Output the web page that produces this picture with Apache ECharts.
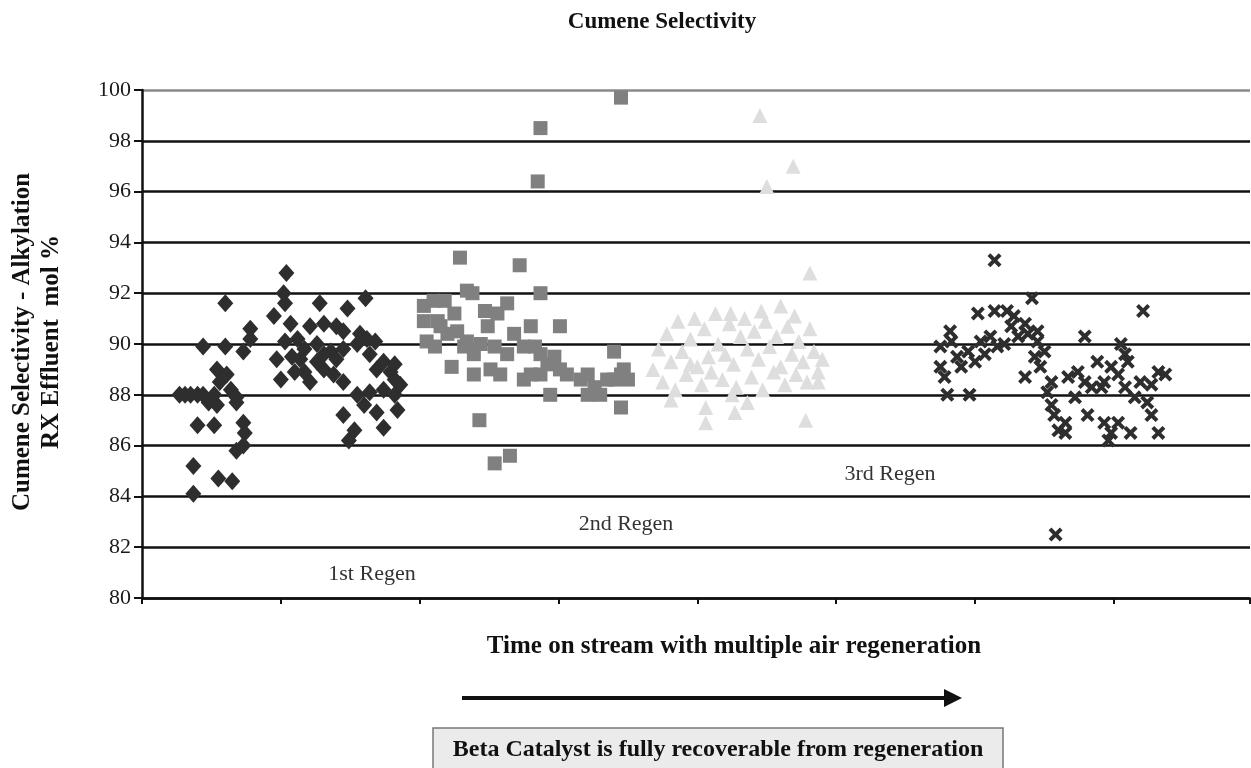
<!DOCTYPE html>
<html>
<head>
<meta charset="utf-8">
<script src="https://cdn.jsdelivr.net/npm/echarts@6/dist/echarts.min.js"></script>
<style>
  html, body { margin: 0; padding: 0; background: #fff; }
  #chart { width: 1251px; height: 768px; }
</style>
</head>
<body>
<div id="chart"></div>
<script>
// Time on stream (arbitrary units, 100 per x tick) vs cumene selectivity (mol %)
const firstRun = [
  [27, 88.0], [31, 88.0], [35, 88.0], [40, 88.0], [44, 88.0], [52, 88.0],
  [37, 84.1], [37, 85.2], [40, 86.8], [44, 89.9], [48, 87.7], [52, 86.8], [54, 87.6], [54, 89.0],
  [55, 84.7], [56, 88.5], [60, 91.6], [60, 89.9], [61, 88.8], [64, 88.2], [65, 84.6], [68, 87.9],
  [68, 87.7], [68, 85.8], [73, 86.9], [74, 86.5], [73, 86.0], [73, 89.7], [78, 90.6], [78, 90.2],
  [95, 91.1], [97, 89.4], [100, 88.6], [102, 92.0], [103, 91.6], [104, 92.8], [107, 90.8], [112, 90.2],
  [114, 89.4], [117, 89.8], [117, 88.9], [121, 90.7], [121, 88.5], [126, 90.0], [126, 89.3], [128, 91.6],
  [131, 90.8], [131, 89.6], [131, 89.0], [136, 89.7], [138, 88.8], [140, 90.7], [140, 89.4], [145, 90.5],
  [145, 89.8], [145, 88.5], [145, 87.2], [148, 91.4], [149, 86.2], [153, 86.6], [155, 90.0], [155, 88.0],
  [157, 90.4], [160, 87.6], [161, 91.8], [162, 90.2], [164, 89.6], [164, 88.1], [168, 90.1], [169, 89.0],
  [169, 87.3], [174, 89.3], [174, 88.2], [174, 86.7], [179, 88.9], [182, 89.2], [182, 88.0], [182, 88.6],
  [184, 87.4], [186, 88.4], [103, 90.1], [108, 89.5], [110, 88.9]
];
const secondRegen = [
  [203, 91.5], [203, 90.9], [205, 90.1], [210, 91.7], [211, 89.9], [213, 90.9], [215, 90.7], [218, 91.7],
  [220, 90.4], [223, 89.1], [225, 91.2], [227, 90.5], [229, 93.4], [232, 89.9], [234, 92.1], [234, 90.1],
  [238, 92.0], [239, 89.6], [239, 88.8], [243, 87.0], [244, 90.0], [247, 91.3], [249, 90.7], [251, 89.0],
  [254, 85.3], [254, 89.9], [256, 91.2], [258, 88.8], [263, 91.6], [263, 89.6], [265, 85.6], [268, 90.4],
  [272, 93.1], [275, 89.9], [275, 88.6], [280, 90.7], [280, 88.8], [283, 89.9], [285, 96.4], [287, 98.5],
  [287, 92.0], [287, 89.6], [287, 88.8], [292, 89.2], [294, 88.0], [297, 89.5], [301, 90.7], [301, 89.0],
  [306, 88.8], [316, 88.6], [321, 88.8], [321, 88.0], [326, 88.3], [330, 88.0], [335, 88.6], [340, 89.7],
  [340, 88.6], [345, 99.7], [345, 88.8], [345, 87.5], [347, 89.0], [350, 88.6]
];
const thirdRegen = [
  [368, 89.0], [372, 89.8], [375, 88.5], [378, 90.4], [381, 89.3], [381, 87.8], [384, 88.2], [386, 90.9],
  [389, 89.7], [392, 88.8], [395, 90.2], [395, 89.2], [398, 91.0], [400, 89.1], [403, 88.4], [405, 90.6],
  [406, 87.5], [406, 86.9], [408, 89.5], [410, 88.9], [413, 91.2], [415, 90.0], [418, 88.6], [420, 89.6],
  [423, 90.8], [424, 91.2], [425, 88.0], [426, 89.2], [427, 87.3], [428, 88.3], [431, 90.3], [434, 91.0],
  [436, 89.8], [436, 87.7], [439, 88.7], [441, 90.5], [444, 89.4], [445, 99.0], [446, 91.3], [447, 88.2],
  [449, 90.9], [450, 96.2], [452, 89.9], [455, 88.9], [457, 90.3], [460, 91.5], [460, 89.1], [463, 88.4],
  [465, 90.7], [468, 89.6], [469, 97.0], [470, 91.1], [471, 88.8], [473, 90.1], [476, 89.3], [478, 87.0],
  [479, 88.5], [481, 90.6], [481, 92.8], [484, 89.7], [487, 88.5], [487, 88.9], [490, 89.4]
];
const fourthRegen = [
  [575, 89.9], [575, 89.1], [578, 88.7], [580, 88.0], [582, 90.5], [583, 90.1], [587, 89.5], [590, 89.1],
  [595, 89.7], [596, 88.0], [600, 89.3], [602, 91.2], [604, 90.1], [607, 89.6], [611, 90.3], [614, 93.3],
  [614, 91.3], [616, 89.9], [621, 90.0], [623, 91.3], [626, 90.7], [628, 91.1], [631, 90.3], [636, 90.8],
  [636, 88.7], [638, 90.4], [641, 91.8], [643, 89.5], [645, 90.5], [645, 90.1], [647, 89.1], [650, 89.7],
  [652, 88.1], [655, 88.5], [655, 87.6], [657, 87.2], [658, 82.5], [660, 86.6], [665, 86.9], [665, 86.5],
  [667, 88.7], [672, 87.9], [674, 88.9], [679, 90.3], [679, 88.5], [681, 87.2], [684, 88.3], [688, 89.3],
  [691, 88.3], [693, 88.5], [693, 86.9], [696, 86.2], [698, 89.1], [698, 86.5], [703, 88.8], [703, 86.9],
  [705, 90.0], [708, 88.3], [708, 89.6], [710, 89.3], [712, 86.5], [715, 87.9], [719, 88.5], [721, 91.3],
  [724, 87.7], [727, 88.4], [727, 87.2], [732, 88.9], [732, 86.5], [737, 88.8]
];
const yTicks = [80, 82, 84, 86, 88, 90, 92, 94, 96, 98, 100];

const serif = '"Liberation Serif", "Times New Roman", serif';
const crossPath = 'path://M0,2L2,0L5,3L8,0L10,2L7,5L10,8L8,10L5,7L2,10L0,8L3,5Z';

// grid lines are black except the top one, which is grey
const splitColors = yTicks.map((v) => (v === 100 ? '#8a8a8a' : '#111'));

const chart = echarts.init(document.getElementById('chart'), null, { renderer: 'canvas' });

const scatter = (data, symbol, size, color) => ({
  type: 'scatter',
  data,
  symbol,
  symbolSize: size,
  itemStyle: { color, opacity: 1 },
  emphasis: { disabled: true },
  silent: true
});

chart.setOption({
  animation: false,
  backgroundColor: '#fff',
  textStyle: { fontFamily: serif },
  grid: { left: 142, top: 90, right: 1, bottom: 170 },
  xAxis: {
    type: 'value',
    min: 0,
    max: 798,
    interval: 100,
    axisLine: { show: true, onZero: false, lineStyle: { color: '#111', width: 2.5 } },
    axisTick: { show: true, length: 6, lineStyle: { color: '#111', width: 2 } },
    axisLabel: { show: false },
    splitLine: { show: false }
  },
  yAxis: {
    type: 'value',
    min: 80,
    max: 100,
    interval: 2,
    axisLine: { show: true, lineStyle: { color: '#111', width: 2.5 } },
    axisTick: { show: true, length: 8, lineStyle: { color: '#111', width: 2 } },
    axisLabel: { color: '#1a1a1a', fontSize: 22, fontFamily: serif, margin: 11 },
    splitLine: { show: true, lineStyle: { color: splitColors, width: 2.5 } }
  },
  series: [
    scatter(firstRun, 'diamond', [16, 18], '#2e2e2e'),
    scatter(secondRegen, 'rect', 14, '#808080'),
    scatter(thirdRegen, 'triangle', 15, '#dedede'),
    scatter(fourthRegen, crossPath, 14, '#2e2e2e')
  ],
  graphic: [
    { type: 'text', x: 662, y: 22, style: { text: 'Cumene Selectivity', fill: '#111', font: 'bold 23px ' + serif, align: 'center', verticalAlign: 'middle' } },
    { type: 'text', x: 37, y: 342, rotation: Math.PI / 2,
      style: { text: 'Cumene Selectivity - Alkylation\nRX Effluent  mol %', fill: '#111', font: 'bold 25px ' + serif, align: 'center', verticalAlign: 'middle', lineHeight: 29 } },
    { type: 'text', x: 372, y: 574, style: { text: '1st Regen', fill: '#333', font: '22px ' + serif, align: 'center', verticalAlign: 'middle' } },
    { type: 'text', x: 626, y: 524, style: { text: '2nd Regen', fill: '#333', font: '22px ' + serif, align: 'center', verticalAlign: 'middle' } },
    { type: 'text', x: 890, y: 474, style: { text: '3rd Regen', fill: '#333', font: '22px ' + serif, align: 'center', verticalAlign: 'middle' } },
    { type: 'text', x: 734, y: 647, style: { text: 'Time on stream with multiple air regeneration', fill: '#111', font: 'bold 25px ' + serif, align: 'center', verticalAlign: 'middle' } },
    { type: 'line', shape: { x1: 462, y1: 698, x2: 948, y2: 698 }, style: { stroke: '#111', lineWidth: 4 } },
    { type: 'polygon', shape: { points: [[944, 689], [962, 698], [944, 707]] }, style: { fill: '#111' } },
    { type: 'rect', shape: { x: 433, y: 728, width: 570, height: 50 }, style: { fill: '#ebebeb', stroke: '#777', lineWidth: 1.5 } },
    { type: 'text', x: 718, y: 750, style: { text: 'Beta Catalyst is fully recoverable from regeneration', fill: '#111', font: 'bold 24px ' + serif, align: 'center', verticalAlign: 'middle' } }
  ]
});
</script>
</body>
</html>
